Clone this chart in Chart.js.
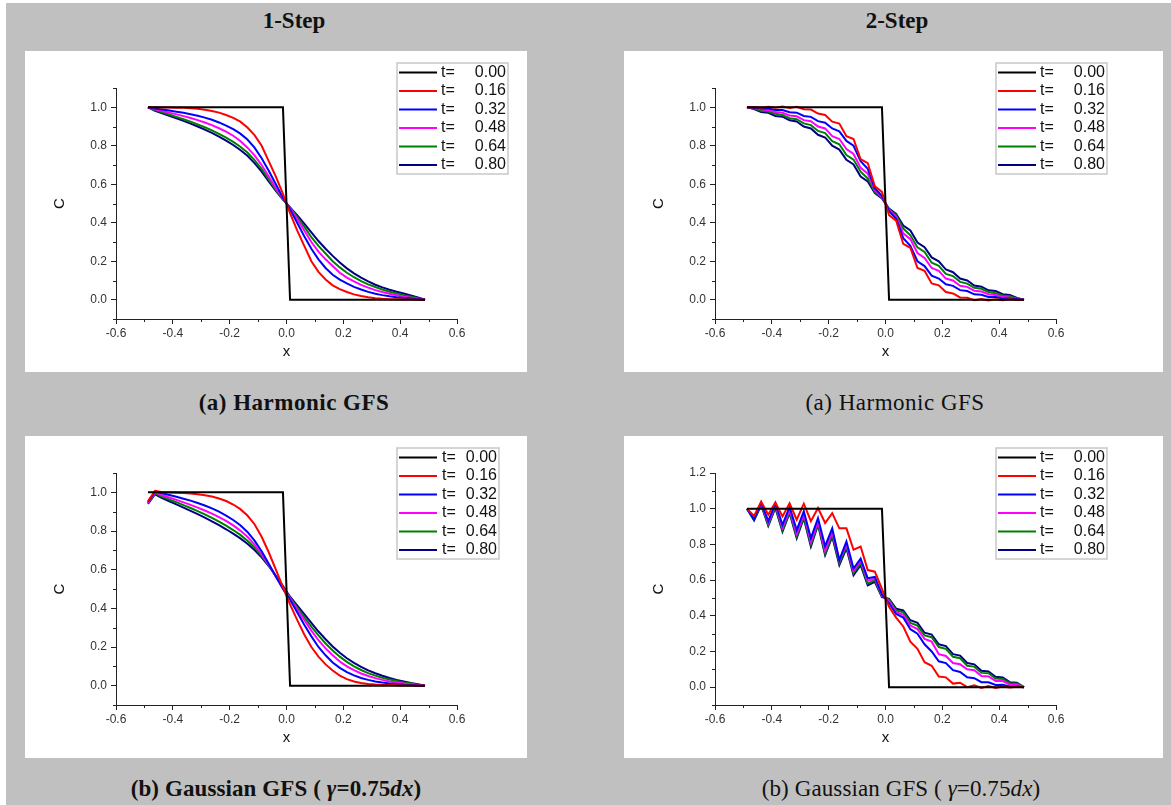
<!DOCTYPE html>
<html lang="en">
<head>
  <meta charset="UTF-8" />
  <title>GFS concentration profiles</title>
  <script src="https://cdn.jsdelivr.net/npm/chart.js"></script>
  <style>
    body {
      margin: 0;
      width: 1171px;
      height: 805px;
      position: relative;
      overflow: hidden;
      background: #fff;
    }
    .sheet {
      position: absolute;
      left: 6px;
      top: 3px;
      width: 1165px;
      height: 802px;
      background: #c0c0c0;
    }
    .panel {
      position: absolute;
      background: #fff;
    }
    .panel canvas {
      display: block;
    }
    .head, .cap {
      position: absolute;
      font-family: 'Liberation Serif', 'Times New Roman', serif;
      font-size: 23px;
      line-height: 26px;
      letter-spacing: 0.5px;
      color: #111;
      text-align: center;
      white-space: nowrap;
    }
    .head {
      font-weight: bold;
      letter-spacing: 0;
    }
    .cap.long {
      letter-spacing: 0.1px;
    }
    .bold {
      font-weight: bold;
    }
  </style>
</head>
<body>
  <div class="sheet"></div>

  <div class="head" style="left:194px; top:8px; width:200px;">1-Step</div>
  <div class="head" style="left:797px; top:8px; width:200px;">2-Step</div>

  <div class="panel" style="left:25px; top:51px; width:502px; height:321px;"><canvas id="c1" width="502" height="321"></canvas></div>
  <div class="panel" style="left:624px; top:51px; width:539px; height:321px;"><canvas id="c2" width="539" height="321"></canvas></div>
  <div class="panel" style="left:25px; top:436px; width:502px; height:322px;"><canvas id="c3" width="502" height="322"></canvas></div>
  <div class="panel" style="left:624px; top:436px; width:539px; height:322px;"><canvas id="c4" width="539" height="322"></canvas></div>

  <div class="cap bold" style="left:144px; top:390px; width:300px;">(a) Harmonic GFS</div>
  <div class="cap" style="left:745px; top:390px; width:300px;">(a) Harmonic GFS</div>
  <div class="cap long bold" style="left:116px; top:776px; width:320px;">(b) Gaussian GFS ( <i>γ</i>=0.75<i>dx</i>)</div>
  <div class="cap long" style="left:741px; top:776px; width:320px;">(b) Gaussian GFS ( <i>γ</i>=0.75<i>dx</i>)</div>

  <script>
    // cell centres, dx = 0.025
    const xGrid = [-0.4875,-0.4625,-0.4375,-0.4125,-0.3875,-0.3625,-0.3375,-0.3125,-0.2875,-0.2625,
                   -0.2375,-0.2125,-0.1875,-0.1625,-0.1375,-0.1125,-0.0875,-0.0625,-0.0375,-0.0125,
                   0.0125,0.0375,0.0625,0.0875,0.1125,0.1375,0.1625,0.1875,0.2125,0.2375,
                   0.2625,0.2875,0.3125,0.3375,0.3625,0.3875,0.4125,0.4375,0.4625,0.4875];

    const tLabels = ['0.00', '0.16', '0.32', '0.48', '0.64', '0.80'];
    const lineColors = ['#000000', '#ff0000', '#0000ff', '#ff00ff', '#008000', '#000080'];

    const xTicks = [-0.6, -0.4, -0.2, 0, 0.2, 0.4, 0.6];
    const xMinor = [-0.5, -0.3, -0.1, 0.1, 0.3, 0.5];
    const yTicks = [0, 0.2, 0.4, 0.6, 0.8, 1.0];
    const yTicksWide = [0, 0.2, 0.4, 0.6, 0.8, 1.0, 1.2];
    const yMinor = [-0.1, 0.1, 0.3, 0.5, 0.7, 0.9, 1.1];

    // initial step, t = 0
    const t000 = [1,1,1,1,1,1,1,1,1,1,1,1,1,1,1,1,1,1,1,1,
                  0,0,0,0,0,0,0,0,0,0,0,0,0,0,0,0,0,0,0,0];

    // Harmonic GFS, 1-step
    const h1_016 = [1.0,1.0,0.999,0.999,0.998,0.997,0.995,0.992,0.987,0.981,0.972,0.96,0.945,0.925,0.895,0.855,0.80,0.72,0.64,0.55,
                    0.45,0.36,0.28,0.20,0.145,0.105,0.075,0.055,0.04,0.028,0.019,0.013,0.008,0.005,0.003,0.002,0.001,0.001,0.0,0.0];
    const h1_032 = [1.0,0.993,0.988,0.983,0.977,0.971,0.964,0.956,0.946,0.935,0.921,0.905,0.886,0.863,0.832,0.79,0.735,0.67,0.60,0.53,
                    0.47,0.40,0.33,0.265,0.21,0.165,0.13,0.105,0.085,0.067,0.053,0.041,0.031,0.024,0.018,0.013,0.009,0.006,0.003,0.0];
    const h1_048 = [1.0,0.99,0.981,0.972,0.963,0.954,0.944,0.933,0.921,0.907,0.891,0.873,0.852,0.825,0.79,0.75,0.70,0.64,0.58,0.525,
                    0.475,0.42,0.36,0.30,0.25,0.21,0.175,0.14,0.115,0.095,0.077,0.063,0.05,0.04,0.031,0.023,0.016,0.01,0.005,0.0];
    const h1_064 = [1.0,0.986,0.974,0.962,0.95,0.938,0.925,0.911,0.896,0.88,0.862,0.842,0.82,0.795,0.765,0.725,0.68,0.625,0.57,0.522,
                    0.478,0.43,0.38,0.325,0.28,0.24,0.2,0.168,0.14,0.117,0.097,0.08,0.066,0.053,0.042,0.032,0.024,0.016,0.008,0.0];
    const h1_080 = [1.0,0.982,0.968,0.955,0.942,0.929,0.915,0.9,0.884,0.867,0.848,0.827,0.804,0.778,0.748,0.71,0.665,0.615,0.565,0.52,
                    0.48,0.44,0.395,0.35,0.305,0.265,0.228,0.193,0.163,0.137,0.115,0.095,0.078,0.064,0.052,0.042,0.032,0.022,0.012,0.0];

    // Harmonic GFS, 2-step
    const h2_016 = [1.0,1.001,0.998,1.003,0.997,1.004,0.996,1.002,0.99,0.988,0.967,0.96,0.925,0.915,0.85,0.835,0.73,0.71,0.59,0.56,
                    0.44,0.41,0.29,0.27,0.165,0.15,0.085,0.075,0.04,0.033,0.012,0.01,-0.002,0.004,-0.004,0.003,-0.003,0.002,-0.001,0.0];
    const h2_032 = [1.0,0.998,0.993,0.994,0.986,0.986,0.974,0.972,0.955,0.95,0.928,0.92,0.89,0.875,0.825,0.80,0.72,0.68,0.58,0.54,
                    0.46,0.42,0.32,0.28,0.20,0.175,0.125,0.11,0.08,0.072,0.05,0.045,0.028,0.026,0.014,0.014,0.006,0.007,0.002,0.0];
    const h2_048 = [1.0,0.996,0.989,0.985,0.975,0.971,0.957,0.953,0.933,0.927,0.90,0.89,0.85,0.835,0.783,0.757,0.685,0.655,0.57,0.535,
                    0.465,0.43,0.345,0.315,0.243,0.217,0.165,0.15,0.11,0.1,0.073,0.067,0.047,0.043,0.029,0.025,0.015,0.011,0.004,0.0];
    const h2_064 = [1.0,0.994,0.982,0.978,0.966,0.96,0.943,0.938,0.916,0.907,0.877,0.866,0.824,0.808,0.752,0.728,0.665,0.63,0.56,0.53,
                    0.47,0.44,0.37,0.335,0.272,0.248,0.192,0.176,0.134,0.123,0.093,0.084,0.062,0.057,0.04,0.034,0.022,0.018,0.006,0.0];
    const h2_080 = [1.0,0.991,0.975,0.971,0.955,0.951,0.932,0.926,0.9,0.89,0.857,0.843,0.8,0.78,0.727,0.703,0.64,0.615,0.554,0.526,
                    0.474,0.446,0.385,0.36,0.297,0.273,0.22,0.2,0.157,0.143,0.11,0.1,0.074,0.068,0.049,0.045,0.029,0.025,0.009,0.0];

    // Gaussian GFS, 1-step
    const g1_016 = [0.955,1.008,1.0,0.999,0.998,0.996,0.994,0.99,0.985,0.978,0.968,0.955,0.937,0.913,0.88,0.835,0.77,0.69,0.6,0.51,
                    0.42,0.34,0.265,0.20,0.15,0.11,0.078,0.052,0.034,0.022,0.014,0.009,0.006,0.004,0.003,0.002,0.001,0.001,0.0,0.0];
    const g1_032 = [0.95,1.005,0.995,0.986,0.977,0.967,0.957,0.945,0.932,0.917,0.90,0.88,0.857,0.83,0.795,0.75,0.695,0.63,0.565,0.50,
                    0.445,0.38,0.315,0.255,0.20,0.157,0.12,0.092,0.07,0.053,0.04,0.03,0.022,0.016,0.011,0.008,0.005,0.003,0.001,0.0];
    const g1_048 = [0.945,1.0,0.985,0.973,0.961,0.948,0.935,0.921,0.906,0.89,0.872,0.852,0.829,0.802,0.77,0.73,0.68,0.625,0.565,0.505,
                    0.45,0.395,0.34,0.285,0.235,0.193,0.157,0.125,0.1,0.08,0.063,0.05,0.039,0.03,0.022,0.016,0.011,0.007,0.003,0.0];
    const g1_064 = [0.943,0.995,0.977,0.963,0.949,0.934,0.919,0.903,0.886,0.868,0.849,0.828,0.805,0.78,0.75,0.715,0.672,0.622,0.567,0.51,
                    0.455,0.405,0.355,0.305,0.26,0.218,0.182,0.15,0.123,0.1,0.081,0.065,0.052,0.041,0.032,0.024,0.017,0.011,0.005,0.0];
    const g1_080 = [0.94,0.99,0.97,0.954,0.938,0.921,0.904,0.887,0.869,0.85,0.83,0.809,0.786,0.762,0.734,0.702,0.664,0.619,0.568,0.515,
                    0.46,0.415,0.37,0.325,0.28,0.24,0.203,0.17,0.142,0.118,0.097,0.079,0.064,0.051,0.04,0.03,0.022,0.014,0.007,0.0];

    // Gaussian GFS, 2-step
    const g2_016 = [1.0,0.96,1.04,0.966,1.035,0.957,1.03,0.938,1.028,0.93,1.004,0.92,0.975,0.89,0.89,0.77,0.788,0.656,0.647,0.55,
                    0.45,0.39,0.34,0.255,0.215,0.14,0.12,0.06,0.055,0.02,0.025,0.0,0.01,-0.005,0.006,-0.004,0.004,-0.002,0.002,0.0];
    const g2_032 = [1.0,0.94,1.035,0.93,1.03,0.91,1.01,0.88,0.985,0.835,0.947,0.79,0.89,0.712,0.816,0.665,0.72,0.61,0.618,0.52,
                    0.47,0.41,0.39,0.325,0.30,0.24,0.2,0.145,0.135,0.095,0.085,0.055,0.05,0.028,0.027,0.012,0.013,0.004,0.004,0.0];
    const g2_048 = [1.0,0.947,1.03,0.92,1.02,0.895,0.995,0.86,0.97,0.815,0.93,0.765,0.87,0.71,0.80,0.65,0.71,0.595,0.61,0.515,
                    0.48,0.42,0.405,0.345,0.325,0.27,0.255,0.185,0.175,0.135,0.128,0.1,0.095,0.062,0.06,0.035,0.034,0.015,0.013,0.0];
    const g2_064 = [1.0,0.94,1.025,0.91,1.012,0.88,0.985,0.845,0.955,0.80,0.92,0.75,0.855,0.695,0.79,0.64,0.695,0.58,0.60,0.51,
                    0.49,0.43,0.42,0.36,0.345,0.29,0.28,0.225,0.215,0.17,0.162,0.12,0.115,0.08,0.078,0.048,0.046,0.022,0.02,0.0];
    const g2_080 = [1.0,0.934,1.02,0.904,1.004,0.872,0.976,0.835,0.947,0.788,0.91,0.74,0.844,0.684,0.778,0.628,0.684,0.571,0.59,0.505,
                    0.495,0.44,0.43,0.375,0.36,0.305,0.295,0.24,0.23,0.185,0.177,0.135,0.128,0.092,0.088,0.058,0.054,0.028,0.025,0.0];

    const tickFont = { family: "'Liberation Sans', Arial, sans-serif", size: 12 };
    const titleFont = { family: "'Liberation Sans', Arial, sans-serif", size: 15 };

    // minor ticks and the boxed legend
    const decor = {
      id: 'decor',
      afterDraw(chart, args, opts) {
        const ctx = chart.ctx;
        const area = chart.chartArea;
        const xs = chart.scales.x, ys = chart.scales.y;
        ctx.save();
        ctx.strokeStyle = '#222';
        ctx.lineWidth = 1;
        ctx.beginPath();
        xMinor.forEach(v => {
          const px = Math.round(xs.getPixelForValue(v)) + 0.5;
          ctx.moveTo(px, area.bottom);
          ctx.lineTo(px, area.bottom + 3);
        });
        yMinor.forEach(v => {
          if (v > ys.max) return;
          const py = Math.round(ys.getPixelForValue(v)) + 0.5;
          ctx.moveTo(area.left, py);
          ctx.lineTo(area.left - 3, py);
        });
        ctx.stroke();

        const L = opts.box;
        ctx.fillStyle = '#fff';
        ctx.fillRect(L.left, L.top, L.width, L.height);
        ctx.strokeStyle = '#c8c8c8';
        ctx.lineWidth = 1.5;
        ctx.strokeRect(L.left, L.top, L.width, L.height);
        ctx.font = "16px 'Liberation Sans', Arial, sans-serif";
        ctx.textBaseline = 'middle';
        chart.data.datasets.forEach((ds, k) => {
          const ry = L.top + 9.5 + k * 18.5;
          ctx.strokeStyle = ds.borderColor;
          ctx.lineWidth = 2;
          ctx.beginPath();
          ctx.moveTo(L.left + 2, ry);
          ctx.lineTo(L.left + 40, ry);
          ctx.stroke();
          ctx.fillStyle = '#111';
          ctx.textAlign = 'left';
          ctx.fillText('t=', L.left + L.textDx, ry);
          ctx.textAlign = 'right';
          ctx.fillText(ds.label, L.left + L.width - 2, ry);
        });
        ctx.restore();
      }
    };

    function makeChart(id, seriesList, yMax, yTickList, rightPad, box) {
      new Chart(document.getElementById(id), {
        type: 'line',
        data: {
          datasets: seriesList.map((vals, k) => ({
            label: tLabels[k],
            data: xGrid.map((x, i) => ({ x: x, y: vals[i] })),
            borderColor: lineColors[k],
            borderWidth: 2,
            pointRadius: 0,
            tension: 0,
            fill: false
          }))
        },
        options: {
          responsive: false,
          animation: false,
          layout: { padding: { left: 0, top: 37, right: rightPad, bottom: 0 } },
          plugins: {
            legend: { display: false },
            tooltip: { enabled: false },
            decor: { box: box }
          },
          scales: {
            x: {
              type: 'linear',
              min: -0.6,
              max: 0.6,
              afterBuildTicks: s => { s.ticks = xTicks.map(v => ({ value: v })); },
              afterFit: s => { s.height = 53; },
              ticks: { callback: v => v.toFixed(1), font: tickFont, color: '#333', padding: 2, maxRotation: 0, autoSkip: false },
              grid: { drawOnChartArea: false, drawTicks: true, tickLength: 5, color: '#222' },
              border: { display: true, color: '#222', width: 1 },
              title: { display: true, text: 'x', font: titleFont, color: '#111', padding: { top: 0, bottom: 11 } }
            },
            y: {
              type: 'linear',
              min: -0.1,
              max: yMax,
              afterBuildTicks: s => { s.ticks = yTickList.map(v => ({ value: v })); },
              afterFit: s => { s.width = 91; },
              ticks: { callback: v => v.toFixed(1), font: tickFont, color: '#333', padding: 4 },
              grid: { drawOnChartArea: false, drawTicks: true, tickLength: 5, color: '#222' },
              border: { display: true, color: '#222', width: 1 },
              title: { display: true, text: 'C', font: titleFont, color: '#111', padding: { top: 26, bottom: 0 } }
            }
          }
        },
        plugins: [decor]
      });
    }

    const wideBox = { left: 372, top: 12, width: 111, height: 111, textDx: 44 };
    const narrowBox = { left: 372, top: 12, width: 102, height: 111, textDx: 45 };

    makeChart('c1', [t000, h1_016, h1_032, h1_048, h1_064, h1_080], 1.1, yTicks, 70, wideBox);
    makeChart('c2', [t000, h2_016, h2_032, h2_048, h2_064, h2_080], 1.1, yTicks, 107, wideBox);
    makeChart('c3', [t000, g1_016, g1_032, g1_048, g1_064, g1_080], 1.1, yTicks, 70, narrowBox);
    makeChart('c4', [t000, g2_016, g2_032, g2_048, g2_064, g2_080], 1.2, yTicksWide, 107, wideBox);
  </script>
</body>
</html>
